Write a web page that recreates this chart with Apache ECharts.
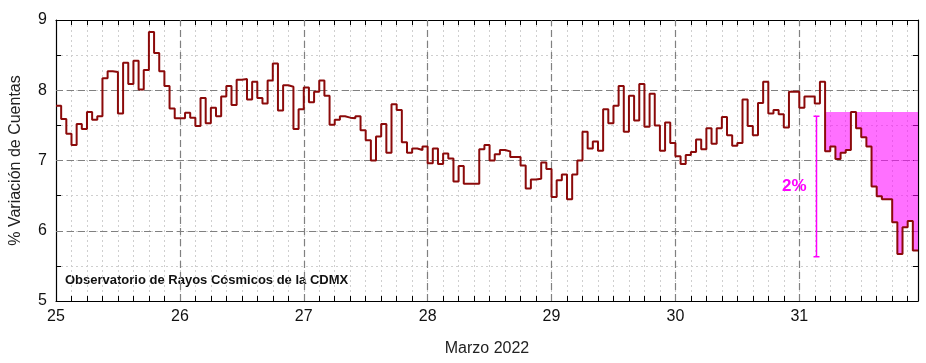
<!DOCTYPE html>
<html>
<head>
<meta charset="utf-8">
<script src="https://cdn.jsdelivr.net/npm/echarts@6/dist/echarts.min.js"></script>
<style>
  html, body { margin: 0; padding: 0; background: #fff; }
  #chart { width: 926px; height: 363px; }
</style>
</head>
<body>
<div id="chart"></div>
<script>
(function() {

	// variación horaria (%) por día de marzo 2022
	var d25 = [7.78, 7.59, 7.38, 7.22, 7.52, 7.45, 7.69, 7.58, 7.63, 8.17, 8.27, 8.26, 7.67, 8.39, 8.09, 8.42, 8.01, 8.29, 8.83, 8.53, 8.27, 8.06, 7.74, 7.60];
	var d26 = [7.60, 7.68, 7.61, 7.49, 7.89, 7.53, 7.75, 7.63, 7.91, 8.06, 7.79, 8.15, 8.16, 7.87, 8.12, 7.89, 7.81, 8.14, 8.38, 7.71, 8.07, 8.05, 7.45, 7.73];
	var d27 = [8.04, 7.83, 7.98, 8.14, 7.92, 7.51, 7.58, 7.63, 7.61, 7.60, 7.63, 7.43, 7.29, 7.00, 7.34, 7.52, 7.11, 7.80, 7.72, 7.26, 7.11, 7.17, 7.15, 7.20];
	var d28 = [6.96, 7.17, 6.95, 7.10, 7.03, 6.70, 6.92, 6.67, 6.67, 6.67, 7.16, 7.22, 7.00, 7.09, 7.15, 7.13, 7.05, 7.05, 6.93, 6.60, 6.73, 6.74, 6.97, 6.88];
	var d29 = [6.48, 6.72, 6.80, 6.45, 6.80, 7.00, 7.41, 7.17, 7.27, 7.14, 7.73, 7.53, 7.78, 8.06, 7.41, 7.92, 7.57, 8.09, 7.48, 7.95, 7.50, 7.14, 7.54, 7.25];
	var d30 = [7.06, 6.95, 7.08, 7.12, 7.30, 7.16, 7.46, 7.24, 7.46, 7.62, 7.36, 7.21, 7.25, 7.87, 7.49, 7.36, 7.82, 8.12, 7.67, 7.72, 7.66, 7.47, 7.98, 7.98];
	var d31 = [7.75, 7.91, 7.91, 7.81, 8.12, 7.13, 7.20, 7.02, 7.11, 7.15, 7.69, 7.46, 7.33, 7.20, 6.63, 6.49, 6.45, 6.45, 6.12, 5.67, 6.05, 6.14, 5.72, 5.72];

	var firstDay = 25;
	var majorDays = [26, 27, 28, 29, 30, 31];
	var majorLevels = [6, 7, 8];

	// zona sombreada y barra de escala
	var fillTop = 7.69;
	var fillFrom = 31.2;
	var scaleBar = [[31.135, 5.63, 7.63]];
	var scaleText = "2%";

	var values = d25.concat(d26, d27, d28, d29, d30, d31);
	var points = values.map(function(v, i) {
		return [firstDay + i / 24, v];
	});
	var fillPoints = points.filter(function(p) {
		return p[0] >= fillFrom;
	});
	var lastT = points[points.length - 1][0];

	var FONT = 'Arial, "Liberation Sans", sans-serif';
	var isInt = function(v) {
		return Math.abs(v - Math.round(v)) < 1e-6;
	};

	var markData = majorDays.map(function(d) {
		return { xAxis: d };
	}).concat(majorLevels.map(function(l) {
		return { yAxis: l };
	}));

	var option = {
		"backgroundColor": "#fff",
		"animation": false,
		"grid": {
			"left": 48,
			"right": 8,
			"top": 20,
			"bottom": 62
		},
		"xAxis": [{
			"type": "value",
			"position": "bottom",
			"min": firstDay,
			"max": lastT,
			"interval": 0.125,
			"name": "Marzo 2022",
			"nameLocation": "middle",
			"nameGap": 40,
			"nameTextStyle": {
				"color": "#222",
				"fontSize": 16,
				"fontFamily": FONT
			},
			"axisLine": {
				"lineStyle": {
					"color": "#000",
					"width": 1.2
				}
			},
			"axisTick": {
				"inside": true,
				"length": 5,
				"lineStyle": {
					"color": "#000"
				}
			},
			"axisLabel": {
				"color": "#111",
				"fontSize": 16,
				"fontFamily": FONT,
				"margin": 8,
				"formatter": function(v) {
					return isInt(v) ? String(Math.round(v)) : "";
				}
			},
			"splitLine": {
				"show": true,
				"lineStyle": {
					"color": "#cfcfcf",
					"type": [2, 3],
					"width": 1
				}
			}
		}, {
			"type": "value",
			"position": "top",
			"min": firstDay,
			"max": lastT,
			"interval": 0.125,
			"axisLine": {
				"lineStyle": {
					"color": "#000",
					"width": 1.2
				}
			},
			"axisTick": {
				"inside": true,
				"length": 5,
				"lineStyle": {
					"color": "#000"
				}
			},
			"axisLabel": {
				"show": false
			},
			"splitLine": {
				"show": false
			}
		}],
		"yAxis": [{
			"type": "value",
			"position": "left",
			"min": 5,
			"max": 9,
			"interval": 0.5,
			"name": "% Variación de Cuentas",
			"nameLocation": "middle",
			"nameGap": 32,
			"nameTextStyle": {
				"color": "#222",
				"fontSize": 16,
				"fontFamily": FONT
			},
			"axisLine": {
				"show": true,
				"lineStyle": {
					"color": "#000",
					"width": 1.2
				}
			},
			"axisTick": {
				"show": true,
				"inside": true,
				"length": 5,
				"lineStyle": {
					"color": "#000"
				}
			},
			"axisLabel": {
				"color": "#111",
				"fontSize": 16,
				"fontFamily": FONT,
				"margin": 9,
				"formatter": function(v) {
					return isInt(v) ? String(Math.round(v)) : "";
				}
			},
			"splitLine": {
				"show": true,
				"lineStyle": {
					"color": "#cfcfcf",
					"type": [2, 3],
					"width": 1
				}
			}
		}, {
			"type": "value",
			"position": "right",
			"min": 5,
			"max": 9,
			"interval": 0.5,
			"axisLine": {
				"show": true,
				"lineStyle": {
					"color": "#000",
					"width": 1.2
				}
			},
			"axisTick": {
				"show": true,
				"inside": true,
				"length": 5,
				"lineStyle": {
					"color": "#000"
				}
			},
			"axisLabel": {
				"show": false
			},
			"splitLine": {
				"show": false
			}
		}],
		"graphic": [{
			"type": "text",
			"left": 65,
			"top": 274,
			"style": {
				"text": "Observatorio de Rayos Cósmicos de la CDMX",
				"fill": "#111",
				"font": "bold 13px " + FONT
			}
		}],
		"series": [{
			// zona sombreada: un solo polígono escalonado
			"type": "custom",
			"z": 2,
			"clip": true,
			"silent": true,
			"data": fillPoints,
			"encode": {
				"x": 0,
				"y": 1
			},
			"renderItem": function(params, api) {
				if (params.dataIndex !== 0) {
					return null;
				}
				var poly = [];
				var t0 = fillPoints[0][0];
				poly.push(api.coord([t0, fillTop]));
				fillPoints.forEach(function(p) {
					poly.push(api.coord([p[0], p[1]]));
					poly.push(api.coord([p[0] + 1 / 24, p[1]]));
				});
				var tEnd = fillPoints[fillPoints.length - 1][0] + 1 / 24;
				poly.push(api.coord([tEnd, fillTop]));
				return {
					"type": "polygon",
					"shape": {
						"points": poly
					},
					"style": {
						"fill": "rgba(255, 0, 255, 0.56)"
					}
				};
			}
		}, {
			"type": "line",
			"z": 3,
			"step": "end",
			"showSymbol": false,
			"silent": true,
			"data": points,
			"lineStyle": {
				"color": "#8b0a0a",
				"width": 2
			},
			"markLine": {
				"silent": true,
				"z": 1,
				"symbol": ["none", "none"],
				"label": {
					"show": false
				},
				"lineStyle": {
					"color": "#808080",
					"type": [7, 4],
					"width": 1.2
				},
				"emphasis": {
					"disabled": true
				},
				"data": markData
			}
		}, {
			// barra de escala 2%
			"type": "custom",
			"z": 4,
			"silent": true,
			"data": scaleBar,
			"encode": {
				"x": 0,
				"y": [1, 2]
			},
			"renderItem": function(params, api) {
				var lo = api.coord([api.value(0), api.value(1)]);
				var hi = api.coord([api.value(0), api.value(2)]);
				var x = Math.round(lo[0]) + 0.5;
				var c = "#ff00ff";
				return {
					"type": "group",
					"children": [{
						"type": "line",
						"shape": { "x1": x, "y1": lo[1], "x2": x, "y2": hi[1] },
						"style": { "stroke": c, "lineWidth": 1.5 }
					}, {
						"type": "line",
						"shape": { "x1": x - 3, "y1": lo[1], "x2": x + 3, "y2": lo[1] },
						"style": { "stroke": c, "lineWidth": 1.5 }
					}, {
						"type": "line",
						"shape": { "x1": x - 3, "y1": hi[1], "x2": x + 3, "y2": hi[1] },
						"style": { "stroke": c, "lineWidth": 1.5 }
					}, {
						"type": "text",
						"x": x - 10,
						"y": (lo[1] + hi[1]) / 2,
						"style": {
							"text": scaleText,
							"fill": c,
							"font": "bold 17px " + FONT,
							"align": "right",
							"verticalAlign": "middle"
						}
					}]
				};
			}
		}]
	};

	var chart = echarts.init(document.getElementById("chart"));
	chart.setOption(option);

})();
</script>
</body>
</html>
